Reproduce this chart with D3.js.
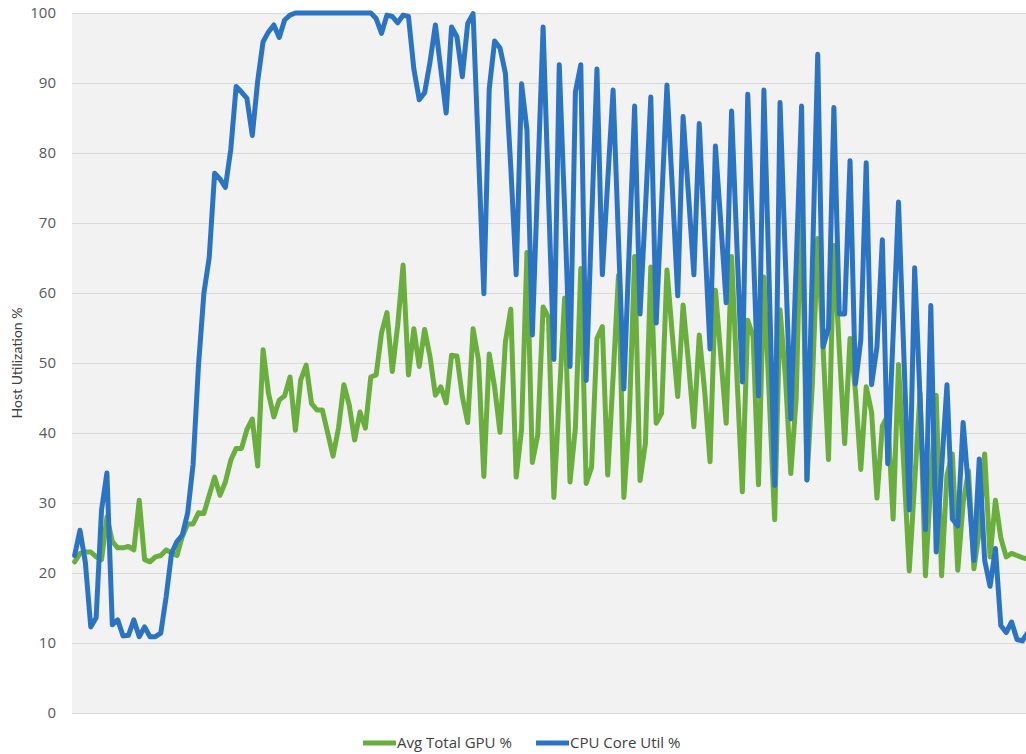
<!DOCTYPE html>
<html>
<head>
<meta charset="utf-8">
<script src="https://cdn.jsdelivr.net/npm/d3@7/dist/d3.min.js"></script>
<style>
  html, body { margin: 0; padding: 0; background: #ffffff; }
  svg { display: block; }
  .tick text { font-family: "Open Sans", "DejaVu Sans", sans-serif; font-size: 15px; fill: #595959; }
</style>
</head>
<body>
<svg id="chart" width="1026" height="754"></svg>
<script>
// Host utilisation samples (percent), one entry per sampling interval
const avgTotalGpu = [
  21.6, 22.8, 23, 23, 22.3, 21.9, 28, 24.5, 23.6, 23.6,
  23.8, 23.3, 30.4, 21.9, 21.6, 22.3, 22.5, 23.3, 22.9, 22.5,
  25.2, 27, 27, 28.6, 28.5, 31.1, 33.7, 31.1, 33, 36.1,
  37.8, 37.8, 40.5, 42, 35.3, 51.9, 45.7, 42.3, 44.7, 45.3,
  48, 40.4, 47.6, 49.7, 44.2, 43.3, 43.3, 40, 36.7, 40.7,
  46.9, 44, 39, 43, 40.7, 48, 48.3, 54.3, 57.2, 48.8,
  55.4, 64, 48.3, 54.9, 49.5, 54.8, 50.9, 45.4, 46.6, 44.3,
  51.1, 51, 45.2, 41.5, 54.9, 50.4, 33.8, 51.3, 46.5, 40.1,
  53, 57.7, 33.7, 40.5, 65.8, 35.8, 39.7, 58, 56.5, 30.8,
  45, 59.3, 33, 40.7, 63.5, 32.8, 35.1, 53.5, 55.2, 34,
  48, 62.5, 30.8, 42, 65.2, 33.2, 38.5, 63.7, 41.4, 42.8,
  63.3, 54, 45.2, 58.3, 50, 40.9, 54, 46, 35.9, 60.4,
  51, 41.4, 65.2, 48, 31.6, 56.1, 53.8, 32.6, 62.3, 45,
  27.6, 57.6, 48, 34.2, 45, 75.5, 33.3, 47, 67.8, 52,
  36.2, 66.8, 52, 38.5, 53.5, 46, 34.8, 46.6, 43, 30.7,
  41, 42.5, 27.7, 49.8, 35, 20.3, 33, 45.7, 19.6, 33,
  45.4, 19.6, 34, 37, 20.4, 30, 34.6, 20.6, 26, 37,
  22.3, 30.4, 25, 22.3, 22.8, 22.5, 22.2, 22
];

const cpuCoreUtil = [
  22.5, 26.1, 21.5, 12.3, 13.6, 29, 34.3, 12.6, 13.3, 11,
  11.1, 13.3, 10.9, 12.3, 10.9, 10.9, 11.4, 16.6, 22.8, 24.5,
  25.4, 28.6, 35.5, 49.6, 59.9, 65.1, 77.1, 76.3, 75.1, 80.5,
  89.5, 88.7, 87.8, 82.5, 90.3, 95.9, 97.3, 98.3, 96.5, 99,
  99.7, 100, 100, 100, 100, 100, 100, 100, 100, 100,
  100, 100, 100, 100, 100, 100, 99.2, 97.1, 99.7, 99.5,
  98.6, 99.7, 99.5, 92, 87.6, 88.6, 93, 98.3, 92, 85.7,
  98, 96.6, 90.9, 98.5, 99.9, 80, 59.9, 89.2, 96, 95,
  91.4, 78, 62.6, 89.9, 83.3, 54, 76, 98, 74, 50.5,
  92.6, 72, 49.5, 88.7, 92.6, 47.5, 70, 92, 62.6, 76,
  89, 67.6, 46.3, 66.5, 86.7, 57, 72, 88, 55.7, 72.7,
  89.7, 75, 59.6, 85.2, 74, 62.6, 84.2, 68, 52, 81,
  70, 58.6, 86, 66.6, 47.3, 88.4, 67, 45.3, 89, 61,
  32.5, 87.2, 64.6, 42, 64, 86.7, 33.3, 63.7, 94.1, 52.3,
  55, 86.5, 57, 57, 78.9, 47, 53.3, 78.6, 46.9, 52.3,
  67.6, 35.6, 54, 73, 51, 29, 63.6, 45, 26.2, 58.2,
  23, 35, 46.9, 27.7, 26.7, 41.5, 32, 21.8, 36.3, 21.8,
  18.1, 23.5, 12.5, 11.5, 13, 10.5, 10.3, 11.5
];

const yTicks = [0, 10, 20, 30, 40, 50, 60, 70, 80, 90, 100];
const seriesNames = ["Avg Total GPU %", "CPU Core Util %"];
const seriesColors = ["#6aae3e", "#2b74c3"];
const yTitle = "Host Utilization %";

const samples = d3.range(cpuCoreUtil.length);

const svg = d3.select("#chart");
const plot = { left: 72, right: 1026, top: 13, bottom: 713 };

const x = d3.scalePoint()
  .domain(samples)
  .range([74.6, 74.6 + 5.385 * (samples.length - 1)]);

const y = d3.scaleLinear()
  .domain([0, 100])
  .range([plot.bottom, plot.top]);

// plot background
svg.append("rect")
  .attr("x", plot.left).attr("y", plot.top)
  .attr("width", plot.right - plot.left).attr("height", plot.bottom - plot.top)
  .attr("fill", "#f2f2f2");

svg.append("defs").append("clipPath").attr("id", "plotClip")
  .append("rect")
  .attr("x", plot.left).attr("y", 0)
  .attr("width", plot.right - plot.left).attr("height", plot.bottom + 10);

// value axis with horizontal gridlines
const yAxis = svg.append("g")
  .attr("transform", `translate(${plot.left},0)`)
  .call(d3.axisLeft(y)
    .tickValues(yTicks)
    .tickSize(-(plot.right - plot.left))
    .tickPadding(16)
    .tickFormat(d3.format("d")));
yAxis.select(".domain").remove();
yAxis.selectAll(".tick line").attr("stroke", "#d9d9d9").attr("stroke-width", 1);

svg.append("text")
  .attr("transform", `translate(22,${(plot.top + plot.bottom) / 2}) rotate(-90)`)
  .attr("text-anchor", "middle")
  .attr("font-family", "Lato, 'Open Sans', sans-serif")
  .attr("font-size", 14)
  .attr("fill", "#404040")
  .text(yTitle);

// series lines
const line = d3.line()
  .x((d, i) => x(i))
  .y(d => y(d));

const lines = svg.append("g").attr("clip-path", "url(#plotClip)");
[avgTotalGpu, cpuCoreUtil].forEach((values, k) => {
  lines.append("path")
    .datum(values)
    .attr("fill", "none")
    .attr("stroke", seriesColors[k])
    .attr("stroke-width", 5)
    .attr("stroke-linejoin", "round")
    .attr("stroke-linecap", "round")
    .attr("d", line);
});

// legend
const legend = svg.append("g")
  .attr("font-family", "'Open Sans', 'DejaVu Sans', sans-serif")
  .attr("font-size", 15)
  .attr("fill", "#404040");
const legendX = [363, 536];
seriesNames.forEach((name, k) => {
  const g = legend.append("g").attr("transform", `translate(${legendX[k]},743)`);
  g.append("line")
    .attr("x1", 0).attr("x2", 33).attr("y1", 0).attr("y2", 0)
    .attr("stroke", seriesColors[k]).attr("stroke-width", 5);
  g.append("text")
    .attr("x", 34).attr("y", 0).attr("dy", "0.35em")
    .text(name);
});
</script>
</body>
</html>
